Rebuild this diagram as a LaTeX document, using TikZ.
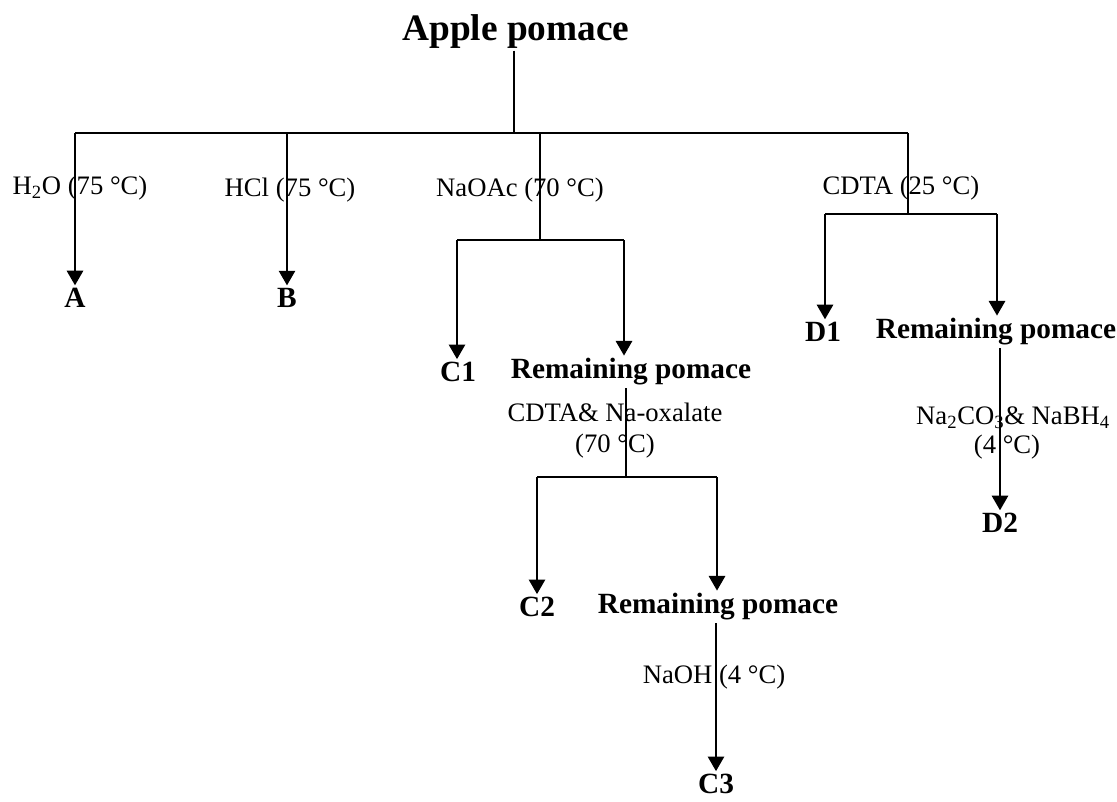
\documentclass[tikz,border=0pt]{standalone}
\usepackage{fontspec}
\setmainfont{Liberation Serif}
\usetikzlibrary{arrows.meta}
\begin{document}
\begin{tikzpicture}[x=0.75pt,y=-0.75pt,
  line/.style={line width=2.1pt},
  arr/.style={line width=2.1pt,-{Triangle[width=12pt,length=11pt]}},
  ttl/.style={font=\fontsize{28}{32}\selectfont\bfseries, inner sep=1pt},
  prod/.style={font=\fontsize{22}{25}\selectfont\bfseries, inner sep=2pt},
  cond/.style={font=\fontsize{20}{23}\selectfont, inner sep=0pt}]
\useasboundingbox (0,0) rectangle (1117,801);
% nodes
\node[ttl] (apple) at (516,32) {Apple pomace};
\node[prod] (A) at (75,298) {A};
\node[prod] (B) at (287,298) {B};
\node[prod] (C1) at (458,372) {C1};
\node[prod] (rp1) at (631,372) {Remaining pomace};
\node[prod] (C2) at (537,607) {C2};
\node[prod] (rp2) at (718,607) {Remaining pomace};
\node[prod] (C3) at (716,784) {C3};
\node[prod] (D1) at (823,332) {D1};
\node[prod] (rp3) at (996,332) {Remaining pomace};
\node[prod] (D2) at (1000,523) {D2};
% condition labels
\node[cond] (lA) at (80,188) {H\textsubscript{2}O (75 °C)};
\node[cond] (lB) at (290,190) {HCl (75 °C)};
\node[cond] (lC) at (520,190) {NaOAc (70 °C)};
\node[cond] (lD) at (901,188) {CDTA (25 °C)};
\node[cond] (lC2a) at (615,412) {CDTA\& Na-oxalate};
\node[cond] (lC2b) at (615,446) {(70 °C)};
\node[cond] (lC3) at (714,677) {NaOH (4 °C)};
\node[cond] (lD2a) at (1013,418) {Na\textsubscript{2}CO\textsubscript{3}\& NaBH\textsubscript{4}};
\node[cond] (lD2b) at (1007,447) {(4 °C)};
% junctions
\coordinate (j0) at (514,133);
\coordinate (hA) at (75,133);
\coordinate (hB) at (287,133);
\coordinate (hC) at (540,133);
\coordinate (hD) at (908,133);
\coordinate (cj) at (540,240);
\coordinate (cl) at (457,240);
\coordinate (cr) at (624,240);
\coordinate (c2j) at (626,477);
\coordinate (c2l) at (537,477);
\coordinate (c2r) at (717,477);
\coordinate (c3s) at (716,628);
\coordinate (dj) at (908,214);
\coordinate (dl) at (825,214);
\coordinate (dr) at (997,214);
\coordinate (d2s) at (1000,357);
% connectors
\draw[line] (apple.south -| j0) -- (j0);
\draw[line] (hA) -- (hD);
\draw[arr] (hA) -- (A.north);
\draw[arr] (hB) -- (B.north);
\draw[line] (hC) -- (cj);
\draw[line] (cl) -- (cr);
\draw[arr] (cl) -- (cl |- C1.north);
\draw[arr] (cr) -- (cr |- rp1.north);
\draw[line] (c2j |- rp1.south) -- (c2j);
\draw[line] (c2l) -- (c2r);
\draw[arr] (c2l) -- (c2l |- C2.north);
\draw[arr] (c2r) -- (c2r |- rp2.north);
\draw[arr] (c3s |- rp2.south) -- (c3s |- C3.north);
\draw[line] (hD) -- (dj);
\draw[line] (dl) -- (dr);
\draw[arr] (dl) -- (dl |- D1.north);
\draw[arr] (dr) -- (dr |- rp3.north);
\draw[arr] (d2s |- rp3.south) -- (d2s |- D2.north);
\end{tikzpicture}
\end{document}
